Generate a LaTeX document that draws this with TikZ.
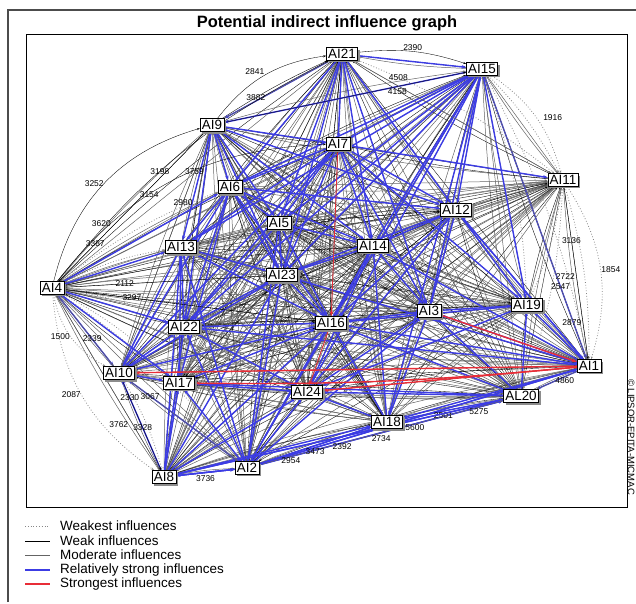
\documentclass[tikz,border=0pt]{standalone}
\usepackage{fontspec}
\setmainfont{Liberation Sans}
\usepackage{tikz}
\usetikzlibrary{arrows.meta,shadows,backgrounds}
\definecolor{strongblue}{RGB}{60,60,228}
\definecolor{strongred}{RGB}{232,45,55}
\definecolor{modgray}{RGB}{100,100,100}
\definecolor{weakgray}{RGB}{135,135,135}
\colorlet{framecolor}{black!70}

\tikzstyle{factor} = [
    draw=black,
    fill=white,
    line width=0.6pt,
    inner sep=1.8pt,
    font=\fontsize{13.5}{13.5}\selectfont,
    drop shadow={shadow xshift=2bp, shadow yshift=-2bp, fill=black!45, opacity=1}
    ]
\tikzstyle{weakest} = [weakgray, dotted, line width=0.8pt, -{Stealth[length=3pt,width=2pt]}]
\tikzstyle{weak} = [black, line width=0.35pt, -{Stealth[length=3pt,width=2pt]}]
\tikzstyle{moderate} = [modgray, line width=0.5pt, -{Stealth[length=3pt,width=2pt]}]
\tikzstyle{strong} = [strongblue, line width=1.4pt, -{Stealth[length=4.5pt,width=3.5pt]}]
\tikzstyle{strongest} = [strongred, line width=1.4pt, -{Stealth[length=5pt,width=3.5pt]}]
\tikzstyle{inflnum} = [font=\fontsize{8.5}{8.5}\selectfont, inner sep=0.5pt, text=black]
\tikzstyle{legendtext} = [font=\fontsize{13.5}{13.5}\selectfont, anchor=west, inner sep=0pt]

\def\allfactors{AI21,AI15,AI9,AI7,AI6,AI11,AI12,AI5,AI13,AI14,AI23,AI4,AI19,AI3,AI16,AI22,AI1,AI10,AI17,AI24,AL20,AI18,AI2,AI8}

\begin{document}
\begin{tikzpicture}[x=1bp, y=-1bp]
\useasboundingbox (0,0) rectangle (636,604);

% frames and title
\draw[framecolor, line width=1.5bp] (8,602) -- (8,10) -- (636,10);
\draw[line width=0.8bp] (26,34) rectangle (627,507);
\node[font=\fontsize{16.5}{16.5}\selectfont\bfseries] (title) at (327,23) {Potential indirect influence graph};
\node[font=\fontsize{9.5}{9.5}\selectfont, rotate=-90] (copy) at (631,437) {\textcopyright{} LIPSOR-EPITA-MICMAC};

% factors
\node[factor] (AI21) at (342,54) {AI21};
\node[factor] (AI15) at (482,69) {AI15};
\node[factor] (AI9) at (212,125) {AI9};
\node[factor] (AI7) at (338,144) {AI7};
\node[factor] (AI6) at (230,187) {AI6};
\node[factor] (AI11) at (563,180) {AI11};
\node[factor] (AI12) at (456,210) {AI12};
\node[factor] (AI5) at (279,223) {AI5};
\node[factor] (AI13) at (181,247) {AI13};
\node[factor] (AI14) at (373,246) {AI14};
\node[factor] (AI23) at (282,275) {AI23};
\node[factor] (AI4) at (52,288) {AI4};
\node[factor] (AI19) at (527,305) {AI19};
\node[factor] (AI3) at (429,311) {AI3};
\node[factor] (AI16) at (331,323) {AI16};
\node[factor] (AI22) at (184,327) {AI22};
\node[factor] (AI1) at (589,366) {AI1};
\node[factor] (AI10) at (119,373) {AI10};
\node[factor] (AI17) at (179,383) {AI17};
\node[factor] (AI24) at (307,392) {AI24};
\node[factor] (AL20) at (521,396) {AL20};
\node[factor] (AI18) at (387,422) {AI18};
\node[factor] (AI2) at (247,468) {AI2};
\node[factor] (AI8) at (164,477) {AI8};

\begin{scope}[on background layer]
\foreach \a [count=\i] in \allfactors {
    \foreach \b [count=\j] in \allfactors {
        \ifnum\j>\i
            \pgfmathtruncatemacro\k{mod(\i+\j,3)}
            \ifnum\k=0 \draw[weak] (\a) -- (\b); \else \draw[moderate] (\a) -- (\b); \fi
            \ifnum\k=1 \draw[weak] (\b) to[bend left=4] (\a); \else \draw[moderate] (\b) to[bend left=4] (\a); \fi
        \fi
    }
}
\foreach \a/\b in {AI21/AI11,AI11/AI19,AI11/AL20,AI15/AI1,AI4/AI6,AI4/AI13,AI4/AI17,AI10/AI8,AI4/AI2,AI11/AI12,AI15/AI19,AI4/AI22,AI15/AI11,AI11/AI1}
    \draw[weakest] (\a) to[bend left=8] (\b);
\foreach \a/\b in {AI15/AI9,AI15/AI6,AI15/AI5,AI15/AI13,AI15/AI23,AI15/AI7,AI15/AI14,AI15/AI12,AI15/AI16,AI15/AI3,AI15/AI19,AI15/AI1,AI15/AI22,AI15/AI24,AI15/AI18,
    AI21/AI9,AI21/AI6,AI21/AI7,AI21/AI5,AI21/AI14,AI21/AI12,AI21/AI3,AI21/AI15,AI21/AI23,
    AI9/AI6,AI9/AI13,AI9/AI5,AI9/AI23,AI9/AI22,AI9/AI7,AI9/AI14,AI9/AI12,
    AI7/AI6,AI7/AI5,AI7/AI13,AI7/AI23,AI7/AI14,AI7/AI12,AI7/AI22,AI7/AI10,AI7/AI3,AI7/AI19,AI7/AI11,
    AI6/AI5,AI6/AI13,AI6/AI23,AI6/AI22,AI6/AI10,AI6/AI17,AI6/AI14,AI6/AI16,AI6/AI12,
    AI4/AI13,AI4/AI22,AI4/AI10,AI4/AI6,AI4/AI17,
    AI13/AI22,AI13/AI10,AI13/AI17,AI13/AI23,AI13/AI16,
    AI5/AI23,AI5/AI14,AI5/AI22,AI5/AI16,
    AI12/AI14,AI12/AI3,AI12/AI19,AI12/AI16,AI12/AI23,AI12/AI24,AI12/AI1,
    AI14/AI16,AI14/AI3,AI14/AI23,AI14/AI24,
    AI1/AI19,AI1/AI3,AI1/AI14,AI1/AI16,AI1/AI23,AI1/AI18,AI1/AL20,AI1/AI22,AI1/AI12,
    AI2/AI8,AI2/AI10,AI2/AI17,AI2/AI22,AI2/AI13,AI2/AI23,AI2/AI16,AI2/AI24,AI2/AI18,AI2/AL20,AI2/AI1,AI2/AI14,AI2/AI3,AI2/AI5,
    AI8/AI10,AI8/AI17,AI8/AI22,AI8/AI24,AI8/AI2,AI8/AI13,AI8/AI18,AI8/AL20,AI8/AI16,AI8/AI23,
    AI18/AL20,AI18/AI24,AI18/AI14,AI18/AI16,AI18/AI3,
    AL20/AI24,AL20/AI3,AL20/AI19,AL20/AI16,AL20/AI17,
    AI10/AI17,AI10/AI22,AI10/AI16,AI10/AI23,
    AI22/AI16,AI22/AI23,AI22/AI24,AI17/AI24,AI17/AI16,AI3/AI16,AI3/AI19,AI3/AI24,AI23/AI16,AI19/AI16,AI19/AI24}
    \draw[strong] (\a) -- (\b);

% strongest influences
\draw[strongest] (AI1) -- (AI10);
\draw[strongest] (AI1) to[bend left=3] (AI17);
\draw[strongest] (AI1) -- (AI24);
\draw[strongest] (AI3) -- (AI1);
\draw[strongest, line width=0.8pt] (AI7) -- (AI16);
\draw[strongest, line width=0.8pt] (AI16) -- (AI24);

% labelled influences
\draw[weak] (AI21) to[bend left=12] node[inflnum, above]{2390} (AI15);
\draw[weak] (AI9) -- node[inflnum, pos=.72, above=5pt]{4508} (AI15);
\draw[weak] (AI9) to[bend left=22] node[inflnum, above left]{2841} (AI21);
\draw[moderate] (AI9) -- node[inflnum, pos=.3, above]{3882} (AI21);
\draw[moderate] (AI21) -- node[inflnum, pos=.22, below=2pt]{4158} (AI11);
\draw[weakest] (AI15) to[bend left=20] node[inflnum, right=6pt]{1916} (AI11);
\draw[weak] (AI11) -- node[inflnum, pos=.31]{3136} node[inflnum, pos=.52, left=1pt]{2722} node[inflnum, pos=.79, left=1pt]{2879} (AI1);
\draw[moderate] (AI15) -- node[inflnum, pos=.745]{2547} (AI1);
\draw[weakest] (AI11) to[bend left=25] node[inflnum, right]{1854} (AI1);
\draw[moderate] (AI1) -- node[inflnum, pos=.3, below]{4860} (AL20);
\draw[strong] (AI2) -- node[inflnum, pos=.9, below]{5275} (AL20);
\draw[strong] (AI2) -- node[inflnum, pos=.58, below=2pt]{2501} (AI1);
\draw[strong] (AI8) -- node[inflnum, pos=.73, below=3pt]{5600} (AL20);
\draw[moderate] (AI2) -- node[inflnum, pos=.13, below]{2954} node[inflnum, pos=.34, below]{2392} node[inflnum, pos=.5, below=2pt]{2734} (AL20);
\draw[strong] (AI2) -- node[inflnum, pos=.5, below=2pt]{3473} (AI18);
\draw[strong] (AI8) -- node[inflnum, below=2pt]{3736} (AI2);
\draw[moderate] (AI4) -- node[inflnum, pos=.74, left=4pt]{3762} (AI8);
\draw[weak] (AI10) -- node[inflnum, pos=.2]{2330} node[inflnum, pos=.53]{3328} (AI8);
\draw[weakest] (AI4) to[bend right=25] node[inflnum, left]{2087} (AI8);
\draw[weakest] (AI4) to[bend right=25] node[inflnum, left]{1500} (AI10);
\draw[moderate] (AI4) -- node[inflnum, pos=.62]{2339} (AI10);
\draw[moderate] (AI10) -- node[inflnum, pos=.2]{3067} (AI2);
\draw[weak] (AI4) to[bend left=30] node[inflnum, left]{3252} (AI9);
\draw[weak] (AI4) -- node[inflnum, pos=.25]{3387} node[inflnum, pos=.36, above left]{3620} (AI9);
\draw[weak] (AI4) to[bend left=25] node[inflnum, pos=.4]{3154} (AI7);
\draw[weak] (AI4) to[bend left=12] node[inflnum, pos=.42]{3198} (AI21);
\draw[moderate] (AI9) -- node[inflnum, pos=.17]{3759} node[inflnum, pos=.3]{2980} (AI10);
\draw[weak] (AI4) -- node[inflnum, pos=.3]{2112} (AI23);
\draw[weak] (AI4) -- node[inflnum, pos=.27]{3297} (AI16);
\end{scope}

% legend
\node[legendtext] (lgA) at (60,526) {Weakest influences};
\node[legendtext] (lgB) at (60,541) {Weak influences};
\node[legendtext] (lgC) at (60,555) {Moderate influences};
\node[legendtext] (lgD) at (60,570) {Relatively strong influences};
\node[legendtext] (lgE) at (60,584) {Strongest influences};
\draw[weakest, -] ([xshift=-35bp]lgA.west) -- ([xshift=-10bp]lgA.west);
\draw[weak, -] ([xshift=-35bp]lgB.west) -- ([xshift=-10bp]lgB.west);
\draw[moderate, -, line width=0.9pt] ([xshift=-35bp]lgC.west) -- ([xshift=-10bp]lgC.west);
\draw[strong, -, line width=1.5pt] ([xshift=-35bp]lgD.west) -- ([xshift=-10bp]lgD.west);
\draw[strongest, -, line width=1.5pt] ([xshift=-35bp]lgE.west) -- ([xshift=-10bp]lgE.west);
\end{tikzpicture}
\end{document}
